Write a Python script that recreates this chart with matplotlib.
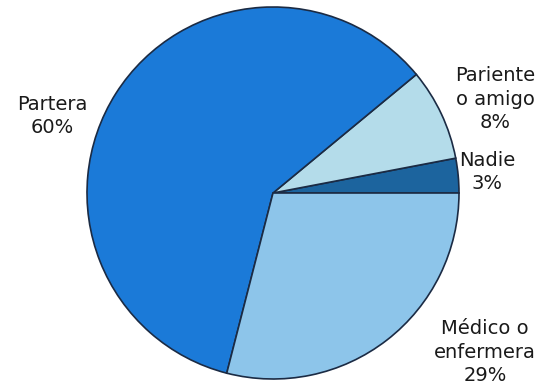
import matplotlib.pyplot as plt

# Who attended the birth
labels = ['Nadie\n3%', 'Pariente\no amigo\n8%', 'Partera\n60%', 'Médico o\nenfermera\n29%']
shares = [3, 8, 60, 29]
colors = ['#1c649e', '#b4dcea', '#1b7ad8', '#8dc5ea']

W, H = 547, 389
fig = plt.figure(figsize=(W / 100, H / 100), dpi=100)
ax = fig.add_axes([0, 0, 1, 1])
ax.set_xlim(0, W)
ax.set_ylim(0, H)
ax.set_aspect('equal')
ax.axis('off')

ax.pie(shares, colors=colors, startangle=0, counterclock=True,
       center=(273, H - 193), radius=186,
       wedgeprops=dict(edgecolor='#1b2b44', linewidth=1.2))
ax.set_xlim(0, W)
ax.set_ylim(0, H)

# label positions in pixel space (x, y from top)
label_pos = [(487, 172), (495, 99), (52, 116), (485, 352)]
for text, (x, y) in zip(labels, label_pos):
    ax.text(x, H - y, text, ha='center', va='center', fontsize=14,
            family='DejaVu Sans', color='#1a1a1a', linespacing=1.3)

fig.savefig('out.png', dpi=100)
